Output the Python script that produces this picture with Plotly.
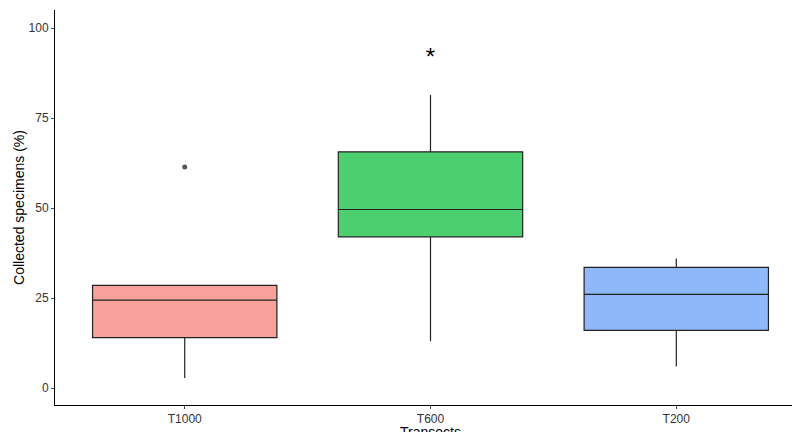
import plotly.graph_objects as go

transects = ["T1000", "T600", "T200"]
lower = [2.8, 13.0, 6.0]
q1 = [14.0, 42.0, 16.0]
median = [24.4, 49.6, 26.0]
q3 = [28.5, 65.6, 33.5]
upper = [28.5, 81.4, 36.0]
colors = ["#F8A09A", "#4CD06F", "#8FB8FA"]

outlier_x = ["T1000"]
outlier_y = [61.4]
star_x = ["T600"]
star_y = [91.5]

fig = go.Figure()
for i, t in enumerate(transects):
    fig.add_trace(go.Box(
        x=[t], q1=[q1[i]], median=[median[i]], q3=[q3[i]],
        lowerfence=[lower[i]], upperfence=[upper[i]],
        fillcolor=colors[i], line=dict(color="#222222", width=1.2),
        width=0.75, whiskerwidth=0, boxpoints=False, showlegend=False,
    ))
fig.add_trace(go.Scatter(x=outlier_x, y=outlier_y, mode="markers",
                         marker=dict(color="#555555", size=5), showlegend=False))
fig.add_trace(go.Scatter(x=star_x, y=star_y, mode="text", text=["*"],
                         textfont=dict(size=24, color="black"), showlegend=False))

fig.update_layout(
    width=800, height=432, plot_bgcolor="white", paper_bgcolor="white",
    margin=dict(l=47, r=2, t=2, b=35),
    font=dict(family="Liberation Sans, Arial", color="#333333"),
)
fig.update_xaxes(title_text="Transects", title_font=dict(size=14, color="black"),
                 title_standoff=0, showline=True, linecolor="black", ticks="outside",
                 ticklen=3, tickfont=dict(size=12, color="#333333"), showgrid=False,
                 automargin=False, categoryorder="array", categoryarray=transects)
fig.update_yaxes(title_text="Collected specimens (%)", title_font=dict(size=14, color="black"),
                 title_standoff=0, showline=True, linecolor="black", ticks="outside",
                 ticklen=3, range=[-4.7, 105], tickvals=[0, 25, 50, 75, 100],
                 tickfont=dict(size=12, color="#333333"), showgrid=False, zeroline=False,
                 automargin=False)

fig.write_html("out.html")
